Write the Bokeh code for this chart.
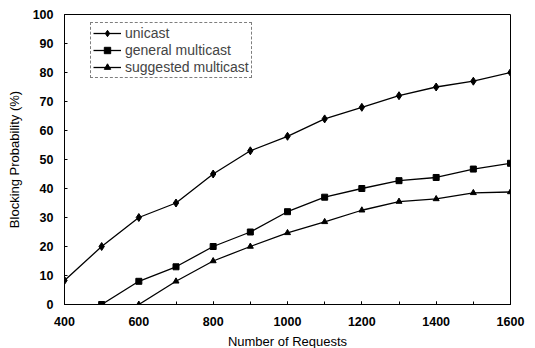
from bokeh.plotting import figure
from bokeh.embed import file_html
from bokeh.resources import INLINE
from bokeh.models import Legend, LegendItem, FixedTicker, Range1d

requests_unicast = [400, 500, 600, 700, 800, 900, 1000, 1100, 1200, 1300, 1400, 1500, 1600]
unicast = [8.3, 20, 30, 35, 45, 53, 58, 64, 68, 72, 75, 77, 80]
requests_general = [500, 600, 700, 800, 900, 1000, 1100, 1200, 1300, 1400, 1500, 1600]
general_multicast = [0, 8, 13, 20, 25, 32, 37, 40, 42.7, 43.8, 46.7, 48.7]
requests_suggested = [600, 700, 800, 900, 1000, 1100, 1200, 1300, 1400, 1500, 1600]
suggested_multicast = [0, 8, 15, 20, 24.7, 28.5, 32.5, 35.5, 36.4, 38.5, 38.8]
x_ticks = [400, 600, 800, 1000, 1200, 1400, 1600]
y_ticks = [0, 10, 20, 30, 40, 50, 60, 70, 80, 90, 100]

FONT = "Liberation Sans"

p = figure(frame_width=446, frame_height=290, output_backend="svg", toolbar_location=None,
           x_range=Range1d(400, 1600), y_range=Range1d(0, 100),
           min_border_left=64, min_border_right=18, min_border_top=14, min_border_bottom=40)
p.xgrid.visible = False
p.ygrid.visible = False
p.outline_line_color = "black"
p.outline_line_width = 1

p.xaxis.ticker = FixedTicker(ticks=x_ticks, minor_ticks=list(range(400, 1601, 100)))
p.yaxis.ticker = FixedTicker(ticks=y_ticks)
for ax in (p.xaxis[0], p.yaxis[0]):
    ax.major_label_text_font = FONT
    ax.major_label_text_font_size = "12.5px"
    ax.major_label_text_font_style = "bold"
    ax.major_label_text_color = "black"
    ax.axis_line_color = "black"
    ax.major_tick_in = 3
    ax.major_tick_out = 0
    ax.minor_tick_in = 3
    ax.minor_tick_out = 0
    ax.axis_label_text_font = FONT
    ax.axis_label_text_font_size = "13px"
    ax.axis_label_text_font_style = "normal"
    ax.axis_label_text_color = "black"
p.yaxis.minor_tick_in = 0
p.xaxis.axis_label = "Number of Requests"
p.yaxis.axis_label = "Blocking Probability (%)"
p.xaxis.major_label_standoff = 12
p.yaxis.major_label_standoff = 11
p.xaxis.axis_label_standoff = 5
p.yaxis.axis_label_standoff = 8

l1 = p.line(requests_unicast, unicast, line_color="black", line_width=1.3)
m1 = p.scatter(requests_unicast, unicast, marker="diamond", size=8, color="black")
l2 = p.line(requests_general, general_multicast, line_color="black", line_width=1.3)
m2 = p.scatter(requests_general, general_multicast, marker="square", size=6, color="black")
l3 = p.line(requests_suggested, suggested_multicast, line_color="black", line_width=1.3)
m3 = p.scatter(requests_suggested, suggested_multicast, marker="triangle", size=6, color="black")

legend = Legend(items=[
    LegendItem(label="unicast", renderers=[l1, m1]),
    LegendItem(label="general multicast", renderers=[l2, m2]),
    LegendItem(label="suggested multicast", renderers=[l3, m3]),
], location=(26, 226))
legend.label_text_font = FONT
legend.label_text_font_size = "14px"
legend.label_height = 16
legend.glyph_height = 16
legend.glyph_width = 28
legend.spacing = 1
legend.padding = 2
legend.label_standoff = 4
legend.border_line_color = "black"
legend.border_line_width = 1
legend.border_line_dash = "3 2"
legend.background_fill_alpha = 1
p.add_layout(legend)

open("out.html", "w").write(file_html(p, INLINE))
